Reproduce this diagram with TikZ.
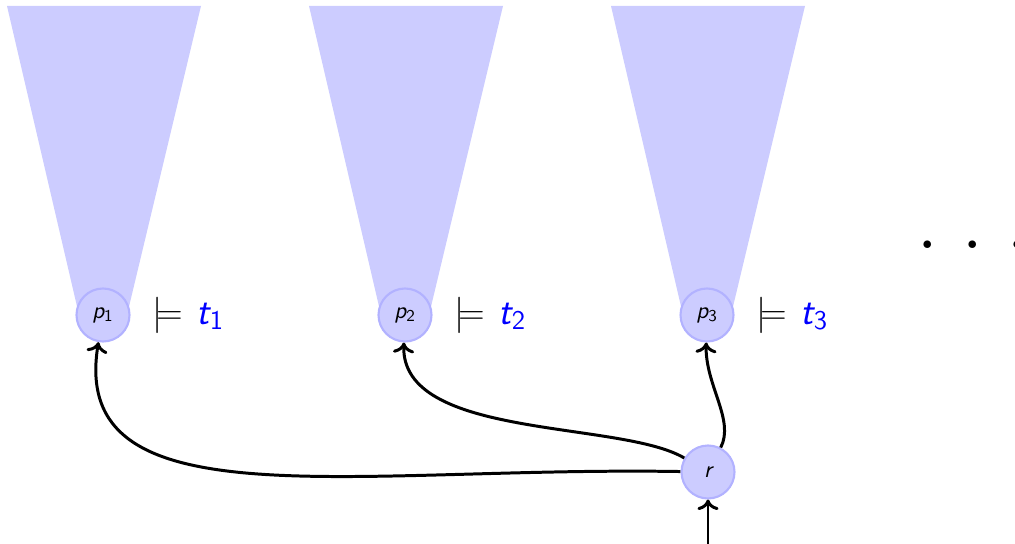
\documentclass[tikz,border=0pt]{standalone}
\usepackage{fontspec}
\usetikzlibrary{arrows.meta}
\begin{document}
\begin{tikzpicture}[x=0.02cm,y=-0.02cm,
  state/.style={circle, fill=blue!20, draw=blue!30, line width=1.2pt, minimum size=1.06cm, inner sep=0pt, font=\fontsize{13.5}{15}\selectfont\sffamily},
  cone/.style={fill=blue!20},
  conn/.style={-{To[length=6pt,width=12pt]}, line width=1.7pt},
  lab/.style={anchor=west, inner sep=0pt, font=\fontsize{22}{26}\selectfont}]
\useasboundingbox (0,0) rectangle (1015,544);
\clip (0,0) rectangle (1015,544);
% cones
\fill[cone] (7,6) -- (201,6) -- (127,315) -- (79,315) -- cycle;
\fill[cone] (309,6) -- (503,6) -- (429,315) -- (381,315) -- cycle;
\fill[cone] (611,6) -- (805,6) -- (731,315) -- (683,315) -- cycle;
% nodes
\node[state] (p1) at (103,315) {\itshape p\textsubscript{\upshape 1}};
\node[state] (p2) at (405,315) {\itshape p\textsubscript{\upshape 2}};
\node[state] (p3) at (707,315) {\itshape p\textsubscript{\upshape 3}};
\node[state] (r) at (708,472) {\itshape r};
% labels
\node[lab] (l1) at (152,315) {$\models$\hspace{8pt}{\color{blue}\sffamily\itshape t\textsubscript{\upshape 1}}};
\node[lab] (l2) at (454,315) {$\models$\hspace{8pt}{\color{blue}\sffamily\itshape t\textsubscript{\upshape 2}}};
\node[lab] (l3) at (756,315) {$\models$\hspace{8pt}{\color{blue}\sffamily\itshape t\textsubscript{\upshape 3}}};
\node[anchor=base west, inner sep=0pt, font=\fontsize{30}{34}\selectfont\bfseries] (dots) at (919.5,248) {.\hspace{16.2pt}.\hspace{16.2pt}.};
% connectors
\draw[conn] (r) .. controls (350,466) and (68,525) .. (p1);
\draw[conn] (r) .. controls (620,420) and (400,440) .. (p2);
\draw[conn] (r) .. controls (735,420) and (705,385) .. (p3);
\coordinate (in) at (708,544);
\draw[conn] (in) -- (r);
\end{tikzpicture}
\end{document}
